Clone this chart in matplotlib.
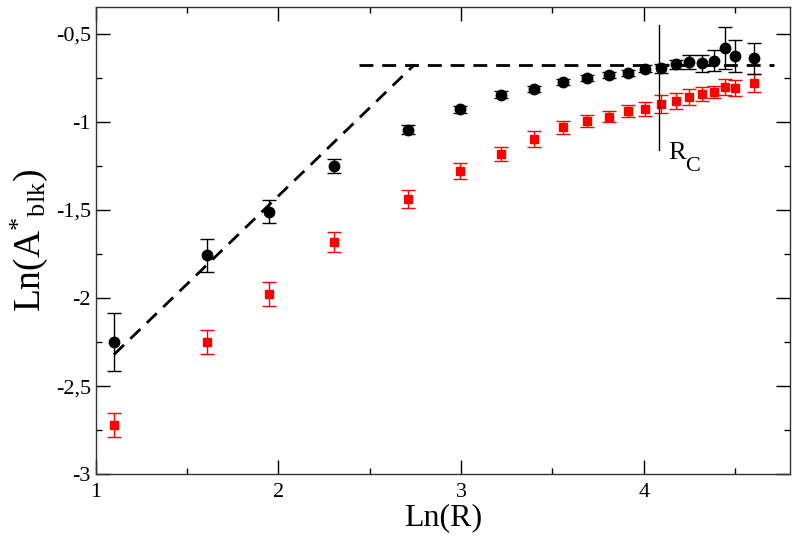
import matplotlib as mpl
mpl.use('Agg')
import matplotlib.pyplot as plt
import numpy as np
from matplotlib.ticker import FuncFormatter, MultipleLocator

plt.rcParams['font.family'] = ['Liberation Serif', 'DejaVu Serif']
plt.rcParams['mathtext.fontset'] = 'custom'
plt.rcParams['mathtext.rm'] = 'Liberation Serif'
plt.rcParams['mathtext.it'] = 'Liberation Serif:italic'

# радиусы R и ln(R)
R = np.array([3, 5, 7, 10, 15, 20, 25, 30, 35, 40, 45, 50, 55, 60, 65, 70, 75, 80, 85, 90, 100])
lnR = np.log(R)

# черные кружки
black_y = [-2.249, -1.757, -1.51, -1.25, -1.044, -0.928, -0.845, -0.814, -0.775, -0.751,
           -0.733, -0.722, -0.70, -0.697, -0.673, -0.66, -0.668, -0.653, -0.58, -0.625, -0.64]
black_err = [0.165, 0.095, 0.065, 0.038, 0.025, 0.02, 0.018, 0.018, 0.018, 0.018,
             0.018, 0.018, 0.02, 0.025, 0.025, 0.042, 0.05, 0.06, 0.12, 0.09, 0.09]

# красные квадраты
red_y = [-2.722, -2.249, -1.974, -1.683, -1.436, -1.278, -1.184, -1.096, -1.032, -0.997,
         -0.97, -0.94, -0.928, -0.898, -0.884, -0.859, -0.843, -0.83, -0.80, -0.806, -0.78]
red_err = [0.068, 0.07, 0.068, 0.057, 0.05, 0.047, 0.04, 0.044, 0.035, 0.035,
           0.03, 0.035, 0.04, 0.05, 0.045, 0.045, 0.04, 0.035, 0.045, 0.045, 0.05]

# пунктирные линии: наклон 1 и плато
slope_x = [1.10, 2.745]
slope_y = [-2.32, -0.675]
plateau_x = [2.44, 4.71]
plateau_y = [-0.675, -0.675]

# отметка R_C
rc_x = 4.085
rc_y = [-0.453, -1.161]

fig = plt.figure(figsize=(7.97, 5.40), dpi=100)
ax = fig.add_axes([0.1201, 0.1215, 0.8711, 0.866])

ax.errorbar(lnR, red_y, yerr=red_err, fmt='s', color='#ff0000', ms=6,
            capsize=5, elinewidth=1, capthick=1, zorder=3)
ax.errorbar(lnR, black_y, yerr=black_err, fmt='o', color='black', ms=7.5,
            capsize=5, elinewidth=1, capthick=1, zorder=4)

ax.plot(slope_x, slope_y, '--', color='black', lw=2, dashes=(5, 3.2), zorder=5)
ax.plot(plateau_x, plateau_y, '--', color='black', lw=2, dashes=(5, 3.2), zorder=5)
ax.plot([rc_x, rc_x], rc_y, color='black', lw=1, zorder=5)
ax.text(4.136, -1.211, 'R', fontsize=19, va='baseline', ha='left')
ax.annotate('C', xy=(4.136, -1.211), xytext=(12, -8.5), textcoords='offset points',
            fontsize=16, va='baseline', ha='left')

ax.set_xlim(1, 4.80)
ax.set_ylim(-3, -0.347)
ax.xaxis.set_major_locator(MultipleLocator(1))
ax.xaxis.set_minor_locator(MultipleLocator(0.5))
ax.yaxis.set_major_locator(MultipleLocator(0.5))
ax.yaxis.set_minor_locator(MultipleLocator(0.25))

def comma(v, pos):
    s = ('%g' % v).replace('.', ',')
    return s

ax.yaxis.set_major_formatter(FuncFormatter(comma))
ax.tick_params(which='both', direction='in', top=True, right=True, labelsize=16)
ax.tick_params(which='major', length=10, width=1)
ax.tick_params(which='minor', length=4.5, width=1)
ax.tick_params(axis='x', pad=6)
ax.tick_params(axis='y', pad=3.5)
for sp in ax.spines.values():
    sp.set_linewidth(1)
    sp.set_color('#333333')

ax.set_xlabel('Ln(R)', fontsize=23, labelpad=1)
ax.set_ylabel(r'Ln(A$^{*}{}_{\rm blk}$)', fontsize=27, labelpad=4)

fig.savefig('out.png', dpi=100)
